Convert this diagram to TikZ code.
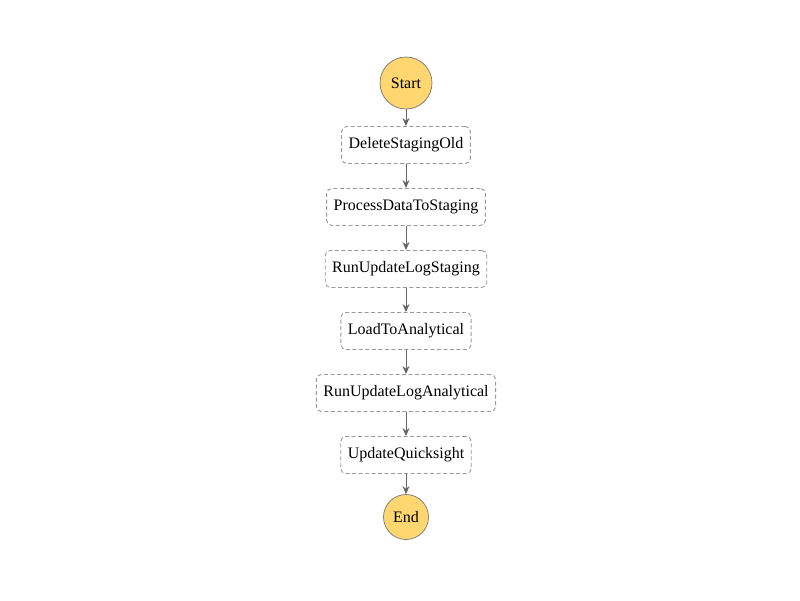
\documentclass[tikz,border=0pt]{standalone}
\usepackage{fontspec}
\setmainfont{Liberation Serif}
\usepackage{tikz}
\usetikzlibrary{positioning, arrows.meta}
\definecolor{startfill}{HTML}{FFD670}
\definecolor{edgegray}{HTML}{666666}
\definecolor{boxgray}{HTML}{999999}
\tikzset{
x=1pt, y=-1pt,
node distance=62pt, % center to center distance between steps
every node/.style={font=\fontsize{16}{18}\selectfont},
task/.style={draw=boxgray, line width=0.9pt, dash pattern=on 4pt off 2.5pt, rounded corners=5pt, fill=white, minimum height=37pt, inner xsep=7pt},
terminal/.style={circle, draw=edgegray!90, line width=0.7pt, fill=startfill, inner sep=0pt},
flow/.style={draw=edgegray, line width=1pt, -{Stealth[length=8pt,width=7pt]}},
}
\begin{document}
\begin{tikzpicture}
                \useasboundingbox (0,0) rectangle (800,600);
                \node[terminal, minimum size=52pt] (start) at (406,83) {Start};
                \node[task, below of=start] (delete_old) {DeleteStagingOld};
                \node[task, below of=delete_old] (process_data) {ProcessDataToStaging};
                \node[task, below of=process_data] (log_staging) {RunUpdateLogStaging};
                \node[task, below of=log_staging] (load_analytical) {LoadToAnalytical};
                \node[task, below of=load_analytical] (log_analytical) {RunUpdateLogAnalytical};
                \node[task, below of=log_analytical] (update_qs) {UpdateQuicksight};
                \node[terminal, minimum size=45pt, below of=update_qs] (end) {End};

                \draw
                    (start) edge[flow] (delete_old)
                    (delete_old) edge[flow] (process_data)
                    (process_data) edge[flow] (log_staging)
                    (log_staging) edge[flow] (load_analytical)
                    (load_analytical) edge[flow] (log_analytical)
                    (log_analytical) edge[flow] (update_qs)
                    (update_qs) edge[flow] (end);
\end{tikzpicture}
\end{document}
